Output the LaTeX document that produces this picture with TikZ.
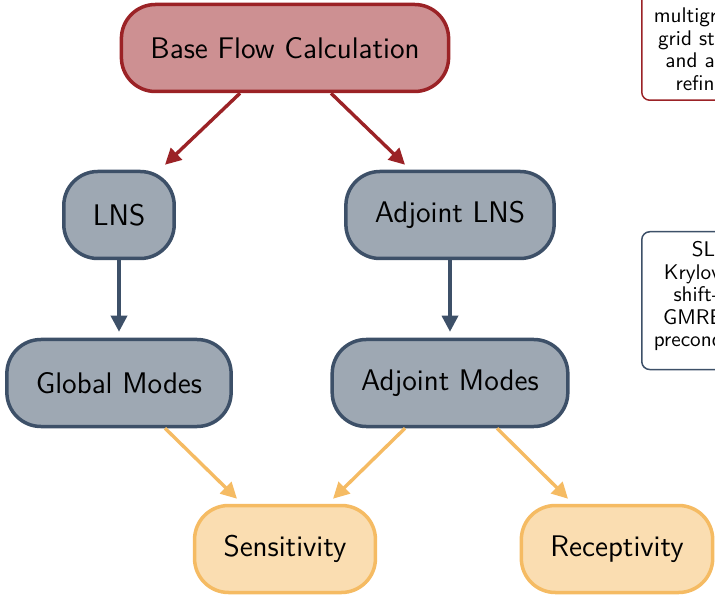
\documentclass[tikz,border=0pt]{standalone}
\usepackage{xcolor}
\usepackage{tikz}
\usetikzlibrary{calc}
\usetikzlibrary{arrows.meta}
\definecolor{flowred}{RGB}{155,34,38}
\definecolor{slate}{RGB}{61,80,104}
\definecolor{amber}{RGB}{245,187,99}
\tikzset{
  stage/.style={rounded corners=17pt, line width=1.75pt, minimum height=43.5pt, inner xsep=14.5pt, font=\sffamily\fontsize{14.9}{17}\selectfont},
  basestage/.style={stage, draw=flowred, fill=flowred!50},
  linstage/.style={stage, draw=slate, fill=slate!50},
  outstage/.style={stage, draw=amber, fill=amber!50},
  note/.style={rounded corners=4pt, line width=0.75pt, fill=white, align=center, inner xsep=6pt, inner ysep=5pt, font=\sffamily\fontsize{10.6}{11.2}\selectfont},
  flow/.style={line width=1.7pt, ->, >={Triangle[length=8pt,width=8pt]}},
}

\begin{document}
\begin{tikzpicture}[x=0.5pt, y=-0.5pt]
\useasboundingbox (0,0) rectangle (715,597);
\clip (0,0) rectangle (715,597);
% stages
\node[basestage] (base) at (285,48) {Base Flow Calculation};
\node[linstage] (lns) at (119,215) {LNS};
\node[linstage] (adjlns) at (450,215) {Adjoint LNS};
\node[linstage] (global) at (119,383) {Global Modes};
\node[linstage] (adjmodes) at (450,383) {Adjoint Modes};
\node[outstage] (sens) at (285,549) {Sensitivity};
\node[outstage] (recep) at (617,549) {Receptivity};
% side notes
\node[note, draw=flowred, anchor=south west] (basenote) at (641,101) {\rule{0pt}{30pt}multigrid solver\\grid stretching\\and adaptive\\refinement};
\node[note, draw=slate, anchor=north west] (lnsnote) at (641,231) {SLEPc\\Krylov-Schur\\shift-invert\\GMRES with\\preconditioning\rule[-6.5pt]{0pt}{6.5pt}};
% arrows
\draw[flow, flowred] ([xshift=-22.5pt]base.south) -- ([xshift=23pt, yshift=2.5pt]lns.north);
\draw[flow, flowred] ([xshift=23pt]base.south) -- ([xshift=-22.5pt, yshift=2.5pt]adjlns.north);
\draw[flow, slate, shorten >=3pt] (lns) -- (global);
\draw[flow, slate, shorten >=3pt] (adjlns) -- (adjmodes);
\draw[flow, amber] ([xshift=23pt]global.south) -- ([xshift=-24pt, yshift=2.5pt]sens.north);
\draw[flow, amber] ([xshift=-22.5pt]adjmodes.south) -- ([xshift=24pt, yshift=2.5pt]sens.north);
\draw[flow, amber] ([xshift=23.5pt]adjmodes.south) -- ([xshift=-24.5pt, yshift=2.5pt]recep.north);
\end{tikzpicture}
\end{document}
